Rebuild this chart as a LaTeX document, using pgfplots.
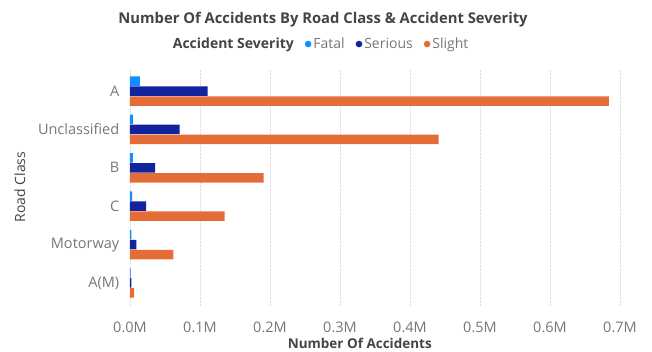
\documentclass[border=0pt]{standalone}
\usepackage{pgfplots}
\pgfplotsset{compat=1.18}
\usepackage{fontspec}
\setmainfont{Open Sans}
\definecolor{fatal}{HTML}{118DFF}
\definecolor{serious}{HTML}{12239E}
\definecolor{slight}{HTML}{E66C37}
\definecolor{txtgray}{HTML}{777777}
\definecolor{darktxt}{HTML}{444444}
\begin{document}
\begin{tikzpicture}
\begin{axis}[
  scale only axis,
  width=490pt, height=236pt,
  xbar, bar width=9.5pt,
  y dir=reverse,
  xmin=0, xmax=0.7,
  ymin=-0.547, ymax=5.599,
  axis line style={draw=none},
  tick style={draw=none},
  xmajorgrids, grid style={densely dotted, gray!25, line width=0.6pt},
  xtick={0,0.1,0.2,0.3,0.4,0.5,0.6,0.7},
  xticklabels={0.0M,0.1M,0.2M,0.3M,0.4M,0.5M,0.6M,0.7M},
  ytick={0,1,2,3,4,5},
  yticklabels={A,Unclassified,B,C,Motorway,A(M)},
  xticklabel style={anchor=base, yshift=-26pt, font=\fontsize{14.5}{16}\selectfont, text=txtgray},
  yticklabel style={anchor=east, xshift=-3pt, font=\fontsize{14.5}{16}\selectfont, text=txtgray},
  xlabel={Number Of Accidents},
  xlabel style={at={(axis description cs:0.469,0)}, anchor=center, yshift=-37pt, font=\bfseries\fontsize{13.5}{15}\selectfont, text=darktxt},
  ylabel={Road Class},
  ylabel style={at={(axis description cs:-0.2245,0.504)}, anchor=center, font=\fontsize{14}{16}\selectfont, text=darktxt},
  legend columns=-1,
  legend style={at={(0.388,1.11)}, anchor=center, draw=none, fill=none,
    font=\fontsize{14}{16}\selectfont, text=txtgray,
    nodes={inner sep=1pt},
    /tikz/every odd column/.append style={column sep=1pt},
    /tikz/every even column/.append style={column sep=10pt}},
]
\addlegendimage{empty legend}
\addlegendentry{\textbf{\textcolor{darktxt}{Accident Severity}}}
\addplot[draw=none, fill=fatal, bar shift=10pt,
  legend image code/.code={\fill[fatal] (0pt,0pt) circle (3.3pt);}]
  coordinates {(0.014,0) (0.004,1) (0.004,2) (0.003,3) (0.002,4) (0.001,5)};
\addlegendentry{Fatal}
\addplot[draw=none, fill=serious, bar shift=0pt,
  legend image code/.code={\fill[serious] (0pt,0pt) circle (3.3pt);}]
  coordinates {(0.111,0) (0.071,1) (0.036,2) (0.023,3) (0.009,4) (0.002,5)};
\addlegendentry{Serious}
\addplot[draw=none, fill=slight, bar shift=-10pt,
  legend image code/.code={\fill[slight] (0pt,0pt) circle (3.3pt);}]
  coordinates {(0.684,0) (0.441,1) (0.191,2) (0.135,3) (0.062,4) (0.006,5)};
\addlegendentry{Slight}
\end{axis}
\node[font=\bfseries\fontsize{14.8}{17}\selectfont, text=darktxt] at (193pt,286pt) {Number Of Accidents By Road Class \& Accident Severity};
\pgfresetboundingbox
\useasboundingbox (-130pt,-46pt) rectangle (522pt,306pt);
\end{tikzpicture}
\end{document}
